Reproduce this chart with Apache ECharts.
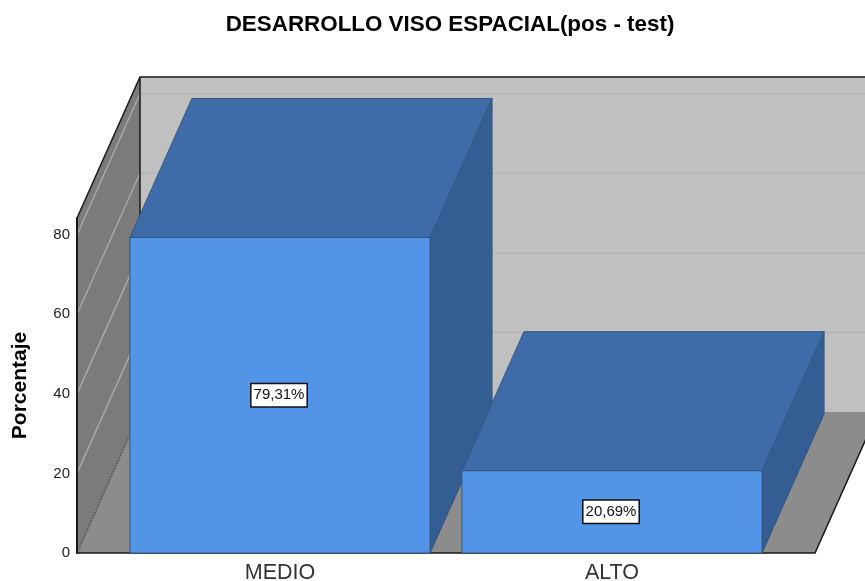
<!DOCTYPE html>
<html>
<head>
<meta charset="utf-8">
<style>
  html, body { margin: 0; padding: 0; background: #fff; }
  #chart { width: 865px; height: 581px; }
</style>
<script src="https://cdn.jsdelivr.net/npm/echarts@6/dist/echarts.min.js"></script>
</head>
<body>
<div id="chart"></div>
<script>
var categories = ['MEDIO', 'ALTO']
var percentages = [79.31, 20.69]
var wallTicks = [20, 40, 60, 80]

var FONT = '"Liberation Sans", Arial, sans-serif'
// 3d offset of the back wall
var depthX = 63
var depthY = -141
var floorPad = 37
var axisMax = 84.2

function renderWalls(params, api) {
  var grid = params.coordSys
  var left = grid.x - floorPad
  var right = grid.x + grid.width + floorPad
  var bottom = api.coord([0, 0])[1]
  var top = api.coord([0, axisMax])[1]
  var backL = left + depthX
  var backR = right + depthX
  var backB = bottom + depthY
  var backT = top + depthY
  var children = [
    { type: 'polygon', shape: { points: [[backL, backT], [backR, backT], [backR, backB], [backL, backB]] }, style: { fill: '#c0c0c0' } },
    { type: 'polygon', shape: { points: [[left, top], [backL, backT], [backL, backB], [left, bottom]] }, style: { fill: '#7b7b7b' } },
    { type: 'polygon', shape: { points: [[left, bottom], [backL, backB], [backR, backB], [right, bottom]] }, style: { fill: '#8c8c8c' } }
  ]
  wallTicks.forEach(function (tick) {
    var y = api.coord([0, tick])[1]
    children.push({ type: 'line', shape: { x1: left, y1: y, x2: backL, y2: y + depthY }, style: { stroke: '#a8a8a8', lineWidth: 1.5 } })
    children.push({ type: 'line', shape: { x1: backL, y1: y + depthY, x2: backR, y2: y + depthY }, style: { stroke: '#b4b4b4', lineWidth: 1.5 } })
  })
  // edges
  children.push({ type: 'line', shape: { x1: left, y1: bottom, x2: backL, y2: backB }, style: { stroke: '#555', lineWidth: 1.5 } })
  children.push({ type: 'line', shape: { x1: left, y1: bottom, x2: backL, y2: backB }, style: { stroke: '#b0b0b0', lineWidth: 1, lineDash: [1, 2] } })
  children.push({ type: 'polyline', shape: { points: [[left, top], [backL, backT], [backR, backT]] }, style: { stroke: '#1a1a1a', lineWidth: 1.5, fill: 'none' } })
  children.push({ type: 'line', shape: { x1: backL, y1: backT, x2: backL, y2: backB }, style: { stroke: '#1a1a1a', lineWidth: 1.5 } })
  children.push({ type: 'polyline', shape: { points: [[left, bottom], [right, bottom], [backR, backB]] }, style: { stroke: '#1a1a1a', lineWidth: 1.5, fill: 'none' } })
  return { type: 'group', children: children }
}

function renderBar(params, api) {
  var value = api.value(1)
  var center = api.coord([api.value(0), 0])
  var halfW = api.size([1, 0])[0] * 0.452
  var x0 = center[0] - halfW
  var x1 = center[0] + halfW
  var y0 = center[1]
  var y1 = api.coord([api.value(0), value])[1]
  var dx = 62
  var dy = -139
  var edge = { stroke: '#33557f', lineWidth: 1 }
  return {
    type: 'group',
    children: [
      { type: 'polygon', shape: { points: [[x1, y1], [x1 + dx, y1 + dy], [x1 + dx, y0 + dy], [x1, y0]] }, style: Object.assign({ fill: '#345e93' }, edge) },
      { type: 'polygon', shape: { points: [[x0, y1], [x0 + dx, y1 + dy], [x1 + dx, y1 + dy], [x1, y1]] }, style: Object.assign({ fill: '#3d6ca8' }, edge) },
      { type: 'rect', shape: { x: x0, y: y1, width: x1 - x0, height: y0 - y1 }, style: Object.assign({ fill: '#5294e6' }, edge) },
      {
        type: 'text',
        x: center[0] - 1,
        y: api.coord([api.value(0), value / 2])[1],
        style: {
          text: value.toFixed(2).replace('.', ',') + '%',
          font: '15px ' + FONT,
          fill: '#111',
          align: 'center',
          verticalAlign: 'middle',
          backgroundColor: '#fff',
          borderColor: '#111',
          borderWidth: 1.5,
          padding: [4, 2, 3, 2]
        }
      }
    ]
  }
}

var chart = echarts.init(document.getElementById('chart'))
chart.setOption({
  animation: false,
  title: {
    text: 'DESARROLLO VISO ESPACIAL(pos - test)',
    left: 445,
    top: 9,
    textAlign: 'center',
    textStyle: { fontFamily: FONT, fontSize: 22.4, fontWeight: 'bold', color: '#000' }
  },
  grid: { left: 114, right: 87, top: 218, bottom: 28, outerBoundsMode: 'none' },
  xAxis: {
    type: 'category',
    data: categories,
    axisLine: { show: false },
    axisTick: { show: false },
    axisLabel: { fontFamily: FONT, fontSize: 21.5, color: '#333', margin: 9 }
  },
  yAxis: {
    type: 'value',
    min: 0,
    max: axisMax,
    interval: 20,
    offset: floorPad,
    z: 4,
    name: 'Porcentaje',
    nameLocation: 'middle',
    nameGap: 46,
    nameTextStyle: { fontFamily: FONT, fontSize: 21, fontWeight: 'bold', color: '#000' },
    axisLine: { show: true, lineStyle: { color: '#1a1a1a', width: 2 } },
    axisTick: { show: false },
    splitLine: { show: false },
    axisLabel: { fontFamily: FONT, fontSize: 15, color: '#222', margin: 7, showMaxLabel: false }
  },
  series: [
    { type: 'custom', z: 1, silent: true, renderItem: renderWalls, data: [[0, 0]] },
    {
      type: 'custom',
      z: 5,
      silent: true,
      renderItem: renderBar,
      encode: { x: 0, y: 1 },
      data: percentages.map(function (v, i) { return [i, v] })
    }
  ]
})
</script>
</body>
</html>
